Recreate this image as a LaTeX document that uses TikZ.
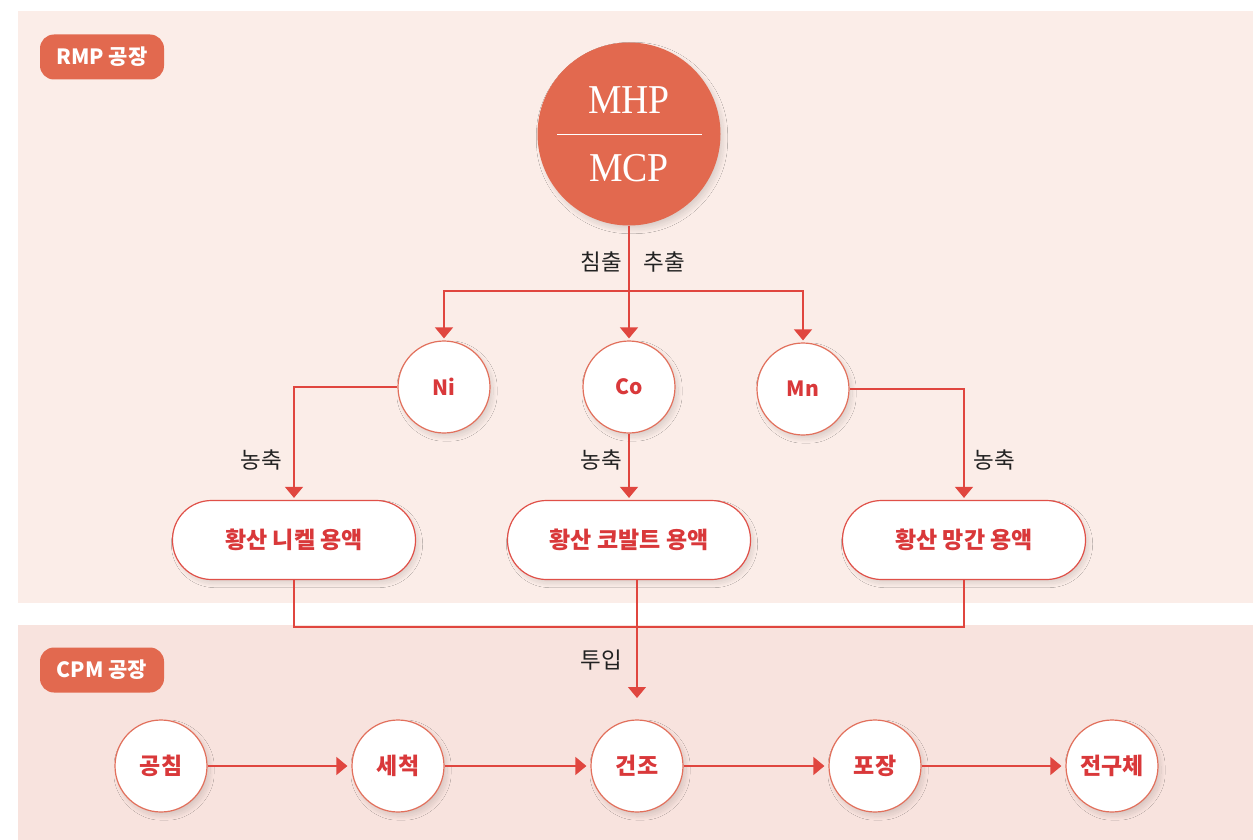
\documentclass[tikz,border=0pt]{standalone}
\usepackage{fontspec}
\setmainfont{Noto Sans CJK KR}
\newfontfamily\mhpserif[FakeStretch=0.92]{Liberation Serif}
\usetikzlibrary{arrows.meta,shadows.blur}
\definecolor{bgtop}{HTML}{FBEDE8}
\definecolor{bgbot}{HTML}{F8E3DE}
\definecolor{tagfill}{HTML}{E2694F}
\definecolor{linered}{HTML}{E0463F}
\definecolor{nodered}{HTML}{D9383A}
\definecolor{circborder}{HTML}{E2705C}
\definecolor{pillborder}{HTML}{E05048}
\definecolor{labtext}{HTML}{222222}
\definecolor{shadowcol}{HTML}{B08070}
\begin{document}
\begin{tikzpicture}[x=1pt,y=-1pt,
  softshadow/.style={blur shadow={shadow xshift=3pt, shadow yshift=-4pt, shadow blur radius=4pt, shadow blur steps=20, shadow opacity=12, shadow blur extra rounding=4pt}},
  proc/.style={circle, draw=circborder, line width=1.2pt, fill=white, minimum size=92pt, inner sep=0pt,
    font=\bfseries\fontsize{23}{27}\selectfont, text=nodered, softshadow},
  metal/.style={proc, font=\bfseries\fontsize{21}{25}\selectfont},
  pill/.style={rectangle, rounded corners=39pt, draw=pillborder, line width=1.2pt, fill=white,
    minimum width=243pt, minimum height=79pt, inner sep=0pt,
    font=\bfseries\fontsize{23}{27}\selectfont, text=nodered, softshadow},
  tag/.style={rectangle, rounded corners=14pt, fill=tagfill, minimum width=124pt, minimum height=45pt,
    inner sep=0pt, font=\bfseries\fontsize{21}{25}\selectfont, text=white},
  lab/.style={font=\fontsize{22.5}{26}\selectfont, text=labtext, inner sep=0pt},
  conn/.style={draw=linered, line width=1.2pt},
  flow/.style={conn, -{Triangle[width=18pt,length=11pt]}, shorten >=2pt}
]
\useasboundingbox (0,0) rectangle (1253,840);
\fill[white] (0,0) rectangle (1253,840);
\fill[bgtop] (18,11) rectangle (1253,603);
\fill[bgbot] (18,625) rectangle (1253,840);

% section tags
\node[tag] (rmp) at (102,57) {RMP 공장};
\node[tag] (cpm) at (102,670) {CPM 공장};

% source circle
\node[circle, fill=tagfill, minimum size=183pt, inner sep=0pt, softshadow] (mhp) at (629,134) {};
\node[font=\mhpserif\fontsize{41}{45}\selectfont, text=white, inner sep=0pt] (mhptxt) at (629,100) {MHP};
\node[font=\mhpserif\fontsize{41}{45}\selectfont, text=white, inner sep=0pt] (mcptxt) at (629,168) {MCP};
\draw[white, line width=0.9pt] (mhp.center) ++(-72,0) coordinate (barl) -- ++(145,0) coordinate (barr);

% metals
\node[metal] (ni) at (444,387) {Ni};
\node[metal] (co) at (629,387) {Co};
\node[metal] (mn) at (803,389) {Mn};

% solutions
\node[pill] (nipill) at (294,540) {황산 니켈 용액};
\node[pill] (copill) at (629,540) {황산 코발트 용액};
\node[pill] (mnpill) at (964,540) {황산 망간 용액};

% CPM process
\node[proc] (gc) at (161,766) {공침};
\node[proc] (sc) at (398,766) {세척};
\node[proc] (gj) at (637,766) {건조};
\node[proc] (pj) at (875,766) {포장};
\node[proc] (jg) at (1112,766) {전구체};

% labels
\node[lab] (l1) at (601,262) {침출};
\node[lab] (l2) at (664,262) {추출};
\node[lab] (l3) at (261,460) {농축};
\node[lab] (l4) at (601,460) {농축};
\node[lab] (l5) at (994,460) {농축};
\node[lab] (l6) at (601,660) {투입};

% connectors top
\coordinate (split) at (629,291);
\draw[flow] (mhp.south) -- (co.north);
\draw[flow] (split) -| (ni.north);
\draw[flow] (split) -| (mn.north);
\draw[flow] (ni.west) -| (nipill.north);
\draw[flow] (co.south) -- (copill.north);
\draw[flow] (mn.east) -| (mnpill.north);

% merge
\coordinate (merge) at (637,627);
\coordinate (feed) at (637,698);
\draw[conn] (nipill.south) |- (mnpill.south |- merge) -- (mnpill.south);
\draw[flow, shorten >=0pt] (copill.south -| gj) -- (feed);

% process chain
\draw[flow, shorten >=4pt] (gc.east) -- (sc.west);
\draw[flow, shorten >=4pt] (sc.east) -- (gj.west);
\draw[flow, shorten >=4pt] (gj.east) -- (pj.west);
\draw[flow, shorten >=4pt] (pj.east) -- (jg.west);
\end{tikzpicture}
\end{document}
